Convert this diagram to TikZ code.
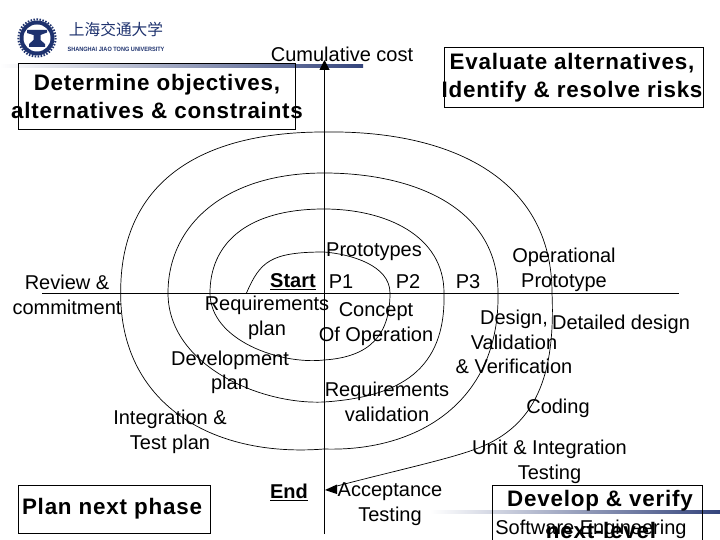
\documentclass[tikz,border=0pt]{standalone}
\usepackage{fontspec}
\usetikzlibrary{arrows.meta}
\setmainfont{Liberation Sans}
\newfontfamily\hdfont{Liberation Sans}[LetterSpace=3.5]
\newfontfamily\cnfont{Noto Sans CJK SC}
\definecolor{navy}{RGB}{52,68,124}
\definecolor{sealblue}{RGB}{30,50,110}
\tikzset{
  lbl/.style={inner sep=0pt,align=center,yshift=-2pt,font=\fontsize{20}{24.5}\selectfont},
  hd/.style={inner sep=0pt,align=center,yshift=-2pt,font=\hdfont\bfseries\fontsize{22.4}{28}\selectfont},
  boldlbl/.style={inner sep=0pt,yshift=-2pt,font=\bfseries\fontsize{20}{24}\selectfont},
  panel/.style={draw=black,line width=0.8pt},
  ax/.style={draw=black,line width=1pt},
  spiralline/.style={draw=black,line width=0.7pt}
}
\begin{document}
\begin{tikzpicture}[x=1pt,y=-1pt]
\useasboundingbox (0,0) rectangle (720,540);
\clip (0,0) rectangle (720,540);
\fill[white] (0,0) rectangle (720,540);
% band lines
\shade[left color=white,right color=navy] (0,65) rectangle (363,68);
\shade[left color=white,right color=navy] (430,510) rectangle (720,513);
% logo
\fill[sealblue] (37,38) circle (17.5);
\draw[sealblue,line width=2pt,dash pattern=on 1.5pt off 1.5pt] (37,38) circle (18.6);
\fill[white] (37,38) circle (13.5);
\fill[sealblue] (27,30) -- (47,30) -- (47,32.5) -- (40.5,35) -- (40.5,40) -- (45,44) -- (45,47) -- (29,47) -- (29,44) -- (33.5,40) -- (33.5,35) -- (27,33) -- cycle;
\node[inner sep=0pt,text=sealblue,font=\cnfont\fontsize{15.7}{16}\selectfont] (cn) at (116,29) {上海交通大学};
\node[inner sep=0pt,text=sealblue,xscale=0.9,font=\bfseries\fontsize{6.2}{7}\selectfont] (en) at (116,49) {SHANGHAI  JIAO TONG  UNIVERSITY};
% axes
\coordinate (axT) at (324.5,60);
\coordinate (axB) at (324.5,534);
\coordinate (axL) at (42,293.5);
\coordinate (axR) at (679,293.5);
\draw[ax,-{Triangle[length=10pt,width=10pt]}] (axB) -- (axT);
\draw[ax] (axL) -- (axR);
% spiral
\draw[spiralline] (246.5,293)
 .. controls (260,262) and (270,252) .. (324,252)
 .. controls (350,254) and (390,265) .. (390,293)
 .. controls (390,335) and (370,357) .. (324,360)
 .. controls (280,365) and (210,340) .. (210,293)
 .. controls (210,245) and (245,209) .. (324,209)
 .. controls (385,209) and (444,235) .. (444,293)
 .. controls (446,370) and (400,397) .. (324,402)
 .. controls (260,405) and (168,365) .. (168,293)
 .. controls (168,225) and (225,173) .. (324,173)
 .. controls (410,173) and (498,205) .. (498,293)
 .. controls (500,400) and (420,452) .. (324,449)
 .. controls (210,458) and (120,402) .. (120.7,293)
 .. controls (120,190) and (190,132) .. (324,132)
 .. controls (450,130) and (552,178) .. (552,293)
 .. controls (556,385) and (530,430) .. (473,450)
 .. controls (445,460) and (390,472) .. (337,486);
\coordinate (endhead) at (325,490);
\fill[black] (endhead) -- (337,484.5) -- (337,494) -- cycle;
% boxes
\node[panel,minimum width=277pt,minimum height=66pt,inner sep=0pt] (bxA) at (156.5,96.5) {};
\node[panel,minimum width=259pt,minimum height=60pt,inner sep=0pt] (bxB) at (573.5,77) {};
\node[panel,minimum width=192.5pt,minimum height=48pt,inner sep=0pt] (bxC) at (114.2,509) {};
\node[panel,minimum width=210pt,minimum height=56pt,inner sep=0pt] (bxD) at (597,513) {};
% headings
\node[hd] (t1) at (157,94) {Determine objectives,\\alternatives \& constraints};
\node[hd] (t2) at (572,76) {Evaluate alternatives,\\Identify \& resolve risks};
\node[hd] (t3) at (112,507) {Plan next phase};
\node[hd] (t4) at (600,499) {Develop \& verify};
% labels
\node[lbl] (n1) at (342,52) {Cumulative cost};
\node[lbl] (n2) at (67,293) {Review \&\\commitment};
\node[lbl] (n3) at (374,250) {Prototypes};
\node[boldlbl] (n4) at (293,280) {\underline{Start}};
\node[lbl] (n5) at (341,280) {P1};
\node[lbl] (n6) at (408,280) {P2};
\node[lbl] (n7) at (468,280) {P3};
\node[lbl] (n8) at (564,268) {Operational\\Prototype};
\node[lbl] (n9) at (267,316) {Requirements\\plan};
\node[lbl] (n10) at (376,322) {Concept\\Of Operation};
\node[lbl] (n11) at (514,340) {Design,\\Validation\\\& Verification};
\node[lbl] (n12) at (621,322) {Detailed design};
\node[lbl] (n13) at (230,370.5) {Development\\plan};
\node[lbl] (n14) at (387,400) {Requirements\\validation};
\node[lbl] (n15) at (558,406) {Coding};
\node[lbl] (n16) at (170,430) {Integration \&\\Test plan};
\node[lbl] (n17) at (549.5,460) {Unit \& Integration\\Testing};
\node[boldlbl] (n18) at (289,490) {\underline{End}};
\node[lbl] (n19) at (390,502) {Acceptance\\Testing};
\node[lbl] (n20) at (591,527) {Software Engineering};
\node[hd] (n21) at (601,528) {next-level};
\end{tikzpicture}
\end{document}
